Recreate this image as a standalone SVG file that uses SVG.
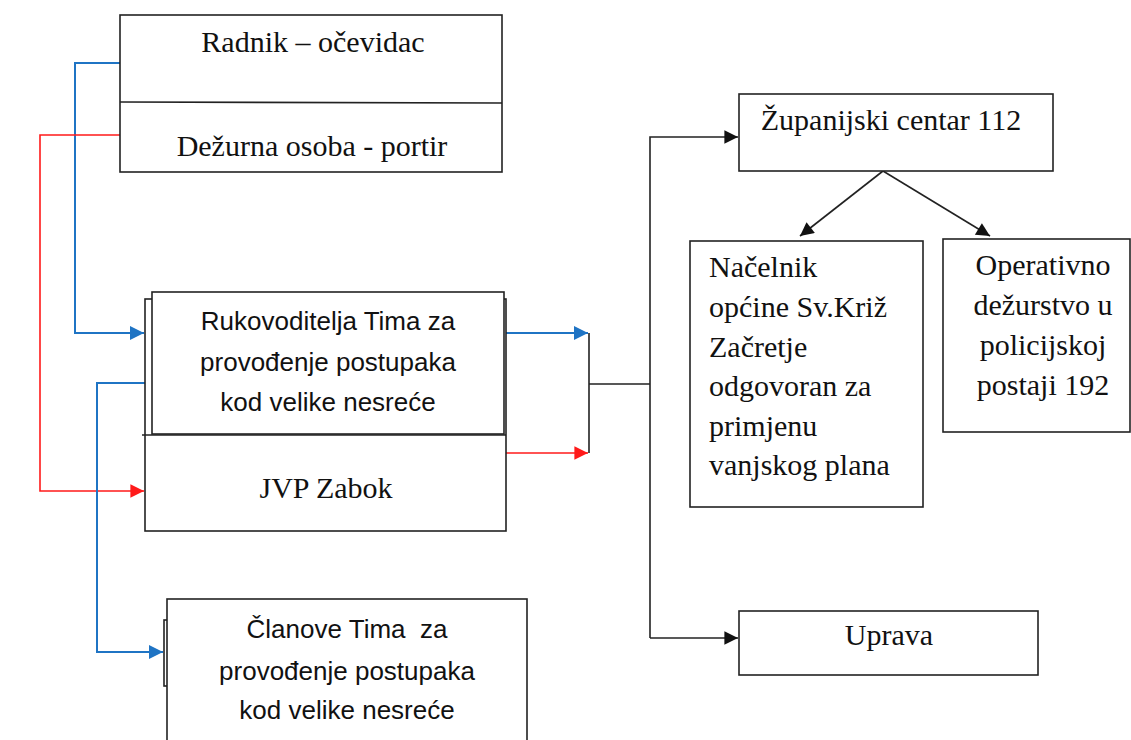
<svg xmlns="http://www.w3.org/2000/svg" width="1131" height="740" viewBox="0 0 1131 740">
<style>
.box{fill:#fff;stroke:#222;stroke-width:1.6}
.ln{fill:none;stroke:#222;stroke-width:1.6}
.serif{font-family:"Liberation Serif","Times New Roman",serif;font-size:30px;fill:#111}
.sans{font-family:"Liberation Sans",Arial,sans-serif;font-size:26px;fill:#111}
.blue{fill:none;stroke:#1f74c4;stroke-width:2}
.red{fill:none;stroke:#ff1a1a;stroke-width:1.6}
</style>
<defs>
<marker id="ab" viewBox="0 0 10 10" refX="10" refY="5" markerWidth="8" markerHeight="7" markerUnits="strokeWidth" orient="auto"><path d="M0,0 L10,5 L0,10 z" fill="#1f74c4"/></marker>
<marker id="ar" viewBox="0 0 10 10" refX="10" refY="5" markerWidth="10" markerHeight="8.5" markerUnits="strokeWidth" orient="auto"><path d="M0,0 L10,5 L0,10 z" fill="#ff1a1a"/></marker>
<marker id="ak" viewBox="0 0 10 10" refX="10" refY="5" markerWidth="10" markerHeight="8.5" markerUnits="strokeWidth" orient="auto"><path d="M0,0 L10,5 L0,10 z" fill="#111"/></marker>
</defs>

<g id="connectors">
<path class="blue" d="M120,63 H75 V333 H144" stroke-width="2.6" marker-end="url(#ab)"/>
<path class="red" d="M120,135 H40 V491 H144" marker-end="url(#ar)"/>
<path class="blue" d="M145,383 H97 V652 H163" marker-end="url(#ab)"/>
<path class="blue" d="M506,333 H588" marker-end="url(#ab)"/>
<path class="red" d="M502,453 H588" marker-end="url(#ar)"/>
<path class="ln" d="M589,333 V453 M589,384 H650"/>
<path class="ln" d="M650,638 V137 H738" marker-end="url(#ak)"/>
<path class="ln" d="M650,638 H738" marker-end="url(#ak)"/>
<path class="ln" d="M883,171 L800,236" marker-end="url(#ak)"/>
<path class="ln" d="M883,171 L990,236" marker-end="url(#ak)"/>
</g>

<g id="node-radnik">
<rect class="box" x="120" y="15" width="382" height="157"/>
<line class="ln" x1="120" y1="102" x2="502" y2="103"/>
<text class="serif" x="313" y="52" text-anchor="middle">Radnik – očevidac</text>
<text class="serif" x="312" y="156" text-anchor="middle">Dežurna osoba - portir</text>
</g>

<g id="node-jvp">
<rect class="box" x="145" y="299" width="361" height="232"/>
<line class="ln" x1="142" y1="435" x2="506" y2="435"/>
<text class="serif" x="326" y="498" text-anchor="middle">JVP Zabok</text>
</g>

<g id="node-rukovoditelj">
<rect class="box" x="152" y="292" width="352" height="142" stroke-width="2"/>
<text class="sans" x="328" y="330" text-anchor="middle">Rukovoditelja Tima za</text>
<text class="sans" x="328" y="371" text-anchor="middle">provođenje postupaka</text>
<text class="sans" x="328" y="411" text-anchor="middle">kod velike nesreće</text>
</g>

<g id="node-clanove">
<rect class="box" x="164" y="620" width="4" height="66"/>
<rect class="box" x="167" y="599" width="360" height="150"/>
<text class="sans" x="347" y="638" text-anchor="middle" xml:space="preserve">Članove Tima  za</text>
<text class="sans" x="347" y="680" text-anchor="middle">provođenje postupaka</text>
<text class="sans" x="347" y="719" text-anchor="middle">kod velike nesreće</text>
</g>

<g id="node-zupanijski">
<rect class="box" x="739" y="94" width="314" height="77"/>
<text class="serif" x="891" y="130" text-anchor="middle">Županijski centar 112</text>
</g>

<g id="node-nacelnik">
<rect class="box" x="690" y="241" width="233" height="266"/>
<text class="serif" x="709" y="277">Načelnik</text>
<text class="serif" x="709" y="317">općine Sv.Križ</text>
<text class="serif" x="709" y="357">Začretje</text>
<text class="serif" x="709" y="396">odgovoran za</text>
<text class="serif" x="709" y="436">primjenu</text>
<text class="serif" x="709" y="475">vanjskog plana</text>
</g>

<g id="node-operativno">
<rect class="box" x="943" y="239" width="187" height="193"/>
<text class="serif" x="1043" y="275" text-anchor="middle">Operativno</text>
<text class="serif" x="1043" y="315" text-anchor="middle">dežurstvo u</text>
<text class="serif" x="1043" y="355" text-anchor="middle">policijskoj</text>
<text class="serif" x="1043" y="395" text-anchor="middle">postaji 192</text>
</g>

<g id="node-uprava">
<rect class="box" x="739" y="611" width="299" height="64"/>
<text class="serif" x="889" y="645" text-anchor="middle">Uprava</text>
</g>
</svg>
